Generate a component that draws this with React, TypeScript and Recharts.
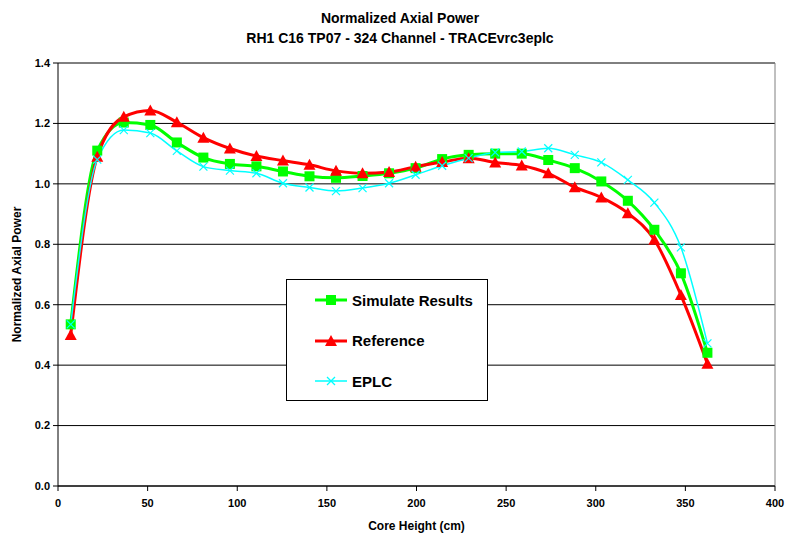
import { LineChart, Line, XAxis, YAxis, CartesianGrid, Legend, Label, ReferenceLine } from 'recharts';

const FONT = 'Arial, "Liberation Sans", sans-serif';

const coreHeights = [
  7.1, 21.9, 36.7, 51.5, 66.3, 81.1, 95.9, 110.7, 125.5, 140.3, 155.1, 169.9, 184.7,
  199.5, 214.3, 229.1, 243.9, 258.7, 273.5, 288.3, 303.1, 317.9, 332.7, 347.5, 362.3,
];
const simulateResults = [
  0.535, 1.11, 1.203, 1.195, 1.137, 1.087, 1.066, 1.058, 1.041, 1.025, 1.02, 1.026, 1.035,
  1.052, 1.082, 1.096, 1.1, 1.1, 1.079, 1.052, 1.008, 0.944, 0.848, 0.704, 0.441,
];
const referenceValues = [
  0.5, 1.09, 1.222, 1.243, 1.204, 1.153, 1.117, 1.092, 1.077, 1.063, 1.043, 1.035, 1.039,
  1.057, 1.072, 1.085, 1.071, 1.061, 1.035, 0.989, 0.955, 0.903, 0.815, 0.632, 0.405,
];
const eplcValues = [
  0.535, 1.08, 1.178, 1.168, 1.109, 1.057, 1.044, 1.035, 1.002, 0.988, 0.976, 0.986, 1.002,
  1.03, 1.06, 1.085, 1.104, 1.107, 1.118, 1.096, 1.071, 1.013, 0.938, 0.79, 0.472,
];
const xTicks = [0, 50, 100, 150, 200, 250, 300, 350, 400];
const yTicks = [0, 0.2, 0.4, 0.6, 0.8, 1.0, 1.2, 1.4];

const GREEN = '#00ff00';
const RED = '#ff0000';
const CYAN = '#00ffff';

const data = coreHeights.map((h, i) => ({
  h,
  sim: simulateResults[i],
  ref: referenceValues[i],
  eplc: eplcValues[i],
}));

function SquareDot(props: any) {
  const { cx, cy } = props;
  if (cx == null || cy == null) return null;
  return <rect x={cx - 5} y={cy - 5} width={10} height={10} fill={GREEN} />;
}

function TriangleDot(props: any) {
  const { cx, cy } = props;
  if (cx == null || cy == null) return null;
  return <polygon points={`${cx},${cy - 6} ${cx + 6},${cy + 5} ${cx - 6},${cy + 5}`} fill={RED} />;
}

function CrossDot(props: any) {
  const { cx, cy } = props;
  if (cx == null || cy == null) return null;
  return (
    <g stroke={CYAN} strokeWidth={1.2}>
      <line x1={cx - 4} y1={cy - 4} x2={cx + 4} y2={cy + 4} />
      <line x1={cx - 4} y1={cy + 4} x2={cx + 4} y2={cy - 4} />
    </g>
  );
}

const legendItems = [
  { name: 'Simulate Results', color: GREEN, width: 3, Dot: SquareDot },
  { name: 'Reference', color: RED, width: 3, Dot: TriangleDot },
  { name: 'EPLC', color: CYAN, width: 1.5, Dot: CrossDot },
];

function renderLegend() {
  return (
    <div
      style={{
        border: '1px solid #000',
        background: '#fff',
        width: 202,
        height: 122,
        boxSizing: 'border-box',
        paddingTop: 0,
        fontFamily: FONT,
      }}
    >
      {legendItems.map(({ name, color, width, Dot }) => (
        <div key={name} style={{ display: 'flex', alignItems: 'center', height: 40.5 }}>
          <svg width={36} height={16} style={{ marginLeft: 28 }}>
            <line x1={0} y1={8} x2={32} y2={8} stroke={color} strokeWidth={width} />
            <Dot cx={16} cy={8} />
          </svg>
          <span style={{ fontSize: 15, fontWeight: 'bold', color: '#000', marginLeft: 1 }}>{name}</span>
        </div>
      ))}
    </div>
  );
}

export default function App() {
  return (
    <div style={{ position: 'absolute', left: 0, top: 0, width: 790, height: 535, background: '#fff', fontFamily: FONT }}>
      <div
        style={{
          position: 'absolute',
          left: 0,
          top: 8,
          width: 790,
          textAlign: 'center',
          fontSize: 14,
          fontWeight: 'bold',
          lineHeight: '20px',
          paddingLeft: 10,
          boxSizing: 'border-box',
        }}
      >
        <div>Normalized Axial Power</div>
        <div>RH1 C16 TP07 - 324 Channel - TRACEvrc3eplc</div>
      </div>
      <LineChart width={790} height={535} data={data} margin={{ top: 63, right: 15, bottom: 19, left: 0 }}>
        <CartesianGrid vertical={false} stroke="#000" horizontalValues={yTicks} />
        <ReferenceLine x={400} stroke="#808080" />
        <XAxis
          dataKey="h"
          type="number"
          domain={[0, 400]}
          ticks={xTicks}
          allowDataOverflow
          height={30}
          stroke="#000"
          tickSize={5}
          tickMargin={8}
          tick={{ fill: '#000', fontSize: 11, fontWeight: 'bold', fontFamily: FONT }}
        >
          <Label
            value="Core Height (cm)"
            position="bottom"
            offset={5}
            style={{ fill: '#000', fontSize: 12, fontWeight: 'bold', fontFamily: FONT }}
          />
        </XAxis>
        <YAxis
          type="number"
          domain={[0, 1.4]}
          ticks={yTicks}
          width={58}
          stroke="#000"
          tickSize={5}
          tickMargin={3}
          tickFormatter={(v: number) => v.toFixed(1)}
          tick={{ fill: '#000', fontSize: 11, fontWeight: 'bold', fontFamily: FONT }}
        >
          <Label
            value="Normalized Axial Power"
            angle={-90}
            position="insideLeft"
            offset={17}
            style={{ textAnchor: 'middle', fill: '#000', fontSize: 12, fontWeight: 'bold', fontFamily: FONT }}
          />
        </YAxis>
        <Legend
          layout="vertical"
          align="center"
          verticalAlign="middle"
          content={renderLegend}
          wrapperStyle={{ left: 286, top: 279, width: 202, height: 122, bottom: 'auto', right: 'auto' }}
        />
        <Line
          type="monotone"
          dataKey="sim"
          name="Simulate Results"
          stroke={GREEN}
          strokeWidth={3}
          dot={<SquareDot />}
          activeDot={false}
          isAnimationActive={false}
        />
        <Line
          type="monotone"
          dataKey="ref"
          name="Reference"
          stroke={RED}
          strokeWidth={3}
          dot={<TriangleDot />}
          activeDot={false}
          isAnimationActive={false}
        />
        <Line
          type="monotone"
          dataKey="eplc"
          name="EPLC"
          stroke={CYAN}
          strokeWidth={1.5}
          dot={<CrossDot />}
          activeDot={false}
          isAnimationActive={false}
        />
      </LineChart>
    </div>
  );
}
